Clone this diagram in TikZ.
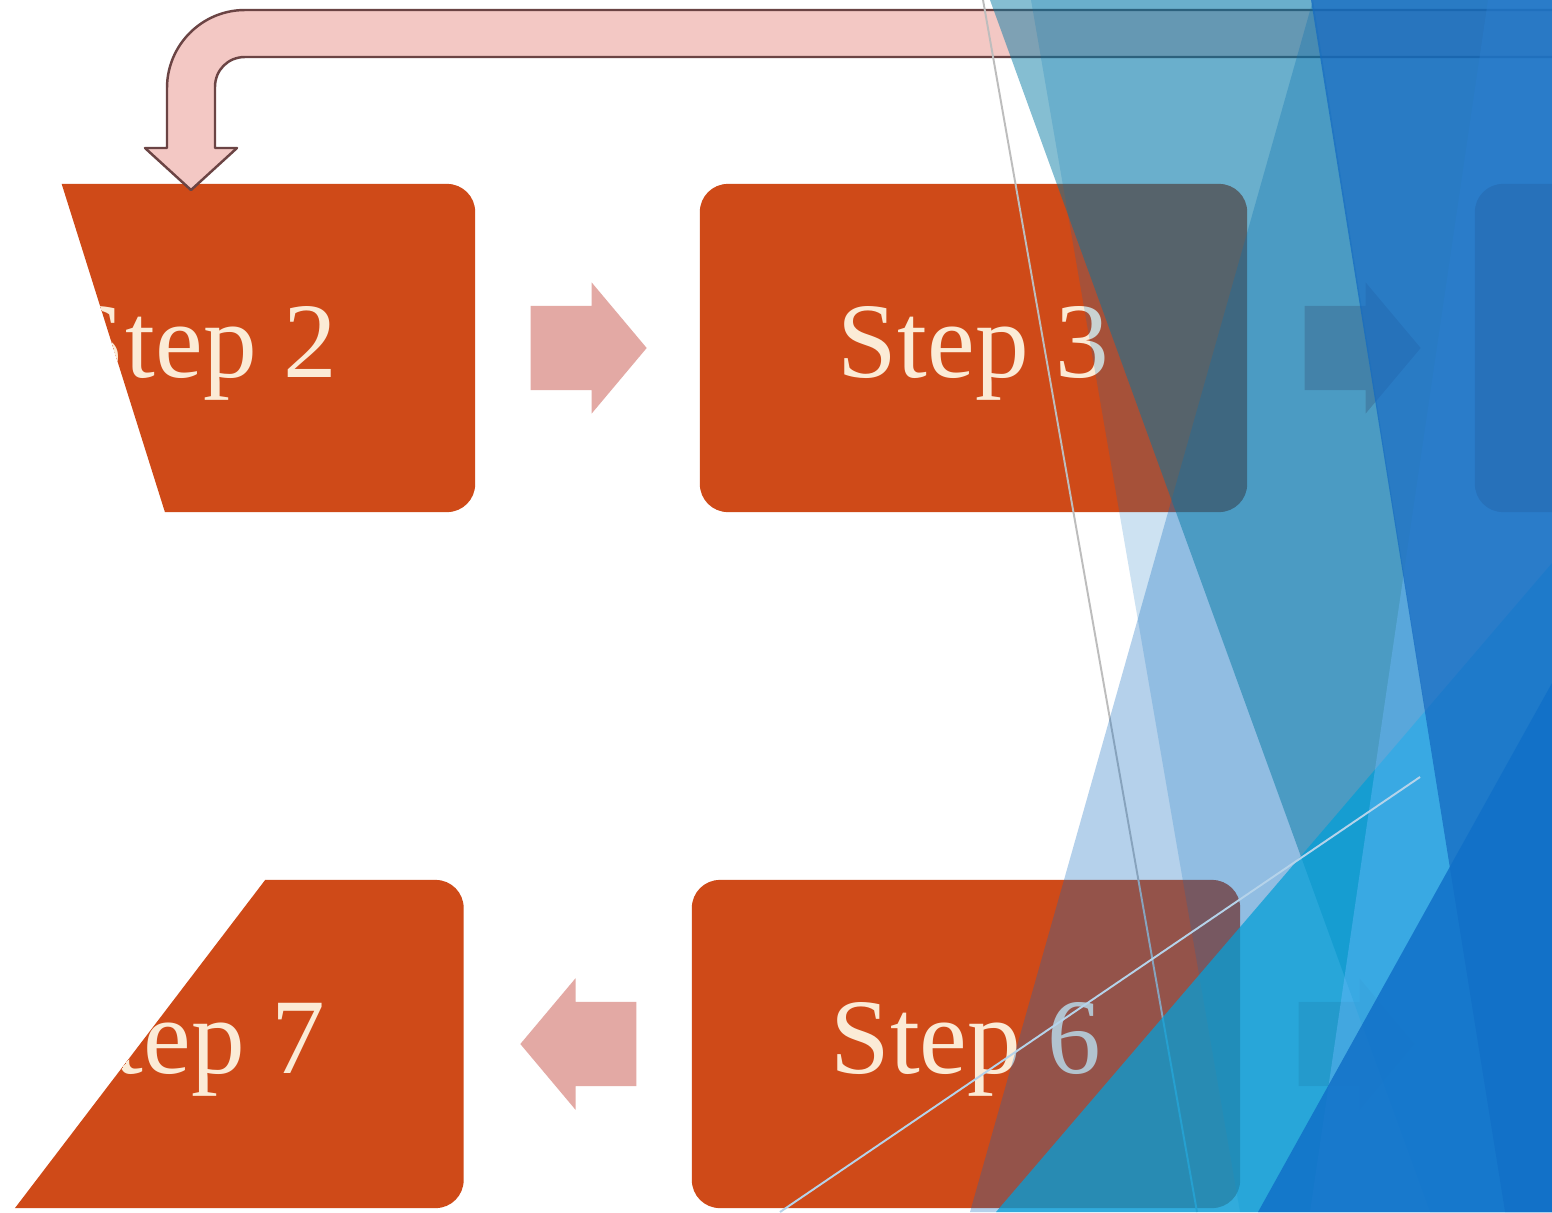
\documentclass[tikz,border=0pt]{standalone}
\usepackage{fontspec}
\setmainfont{Liberation Serif}
\usetikzlibrary{shapes.arrows}

\definecolor{stepfill}{HTML}{CF4A18}
\definecolor{steptext}{HTML}{FBEBD6}
\definecolor{flowpink}{HTML}{E3A9A4}
\definecolor{loopfill}{HTML}{F3C8C4}
\definecolor{loopline}{HTML}{6B4444}
\definecolor{thinline}{HTML}{BDBDBD}
\definecolor{glassline}{HTML}{B5D3EA}
\definecolor{facetV}{RGB}{12,105,192}
\definecolor{facetB}{RGB}{5,110,190}
\definecolor{facetA}{RGB}{0,120,163}
\definecolor{facetF}{RGB}{5,159,215}
\definecolor{facetE}{RGB}{111,187,255}
\definecolor{facetD}{RGB}{20,106,194}
\definecolor{facetG}{RGB}{17,112,200}

\begin{document}
\begin{tikzpicture}[x=0.01cm, y=-0.01cm,
    stepbox/.style={fill=stepfill, rounded corners=0.28cm, minimum width=5.47cm,
      minimum height=3.28cm, inner sep=0pt, text=steptext,
      text height=23pt, text depth=6.5pt,
      font=\fontsize{30.5}{36}\selectfont},
    flowarrow/.style={single arrow, fill=flowpink, inner xsep=0pt, inner ysep=0.415cm,
      minimum height=1.16cm, minimum width=1.30cm, anchor=tail,
      single arrow head extend=0.235cm, single arrow tip angle=100},
    facet/.style 2 args={fill=#1, fill opacity=#2}]

    % Slide background
    \useasboundingbox (0,0) rectangle (1552,1212);
    \fill[white] (0,0) rectangle (1552,1212);
    \clip (0,0) rectangle (1552,1212);

    % Top row of steps
    \begin{scope}
      \clip (51,150) -- (700,150) -- (700,560) -- (180,560) -- cycle;
      \node[stepbox] (s2) at (201.5,348) {Step 2};
    \end{scope}
    \node[stepbox] (s3) at (973.5,348) {Step 3};
    \node[stepbox] (s4) at (1748.5,348) {};

    % Bottom row of steps
    \begin{scope}
      \clip (288,850) -- (700,850) -- (700,1250) -- (-17,1250) -- cycle;
      \node[stepbox, minimum width=5.48cm] (s7) at (189.5,1044) {Step 7};
    \end{scope}
    \node[stepbox, minimum width=5.48cm] (s6) at (966,1044) {Step 6};

    % Arrows between the steps
    \node[flowarrow] (a23) at ([xshift=0.54cm]s2.east) {};
    \node[flowarrow] (a34) at ([xshift=0.56cm]s3.east) {};
    \node[flowarrow, shape border rotate=180] (a67) at ([xshift=-0.54cm]s6.west) {};
    \node[flowarrow] (a65) at ([xshift=0.57cm]s6.east) {};

    % Bent arrow coming back into step 2
    \draw[loopline, fill=loopfill, line width=0.7pt, line join=round]
      (1600,10) -- (245,10) .. controls (202,10) and (167,45) .. (167,88)
      -- (167,148) -- (145,148) -- (191,190) -- (237,148) -- (215,148)
      -- (215,87) .. controls (215,70) and (228,57) .. (245,57) -- (1600,57);

    % Thin guide line
    \draw[thinline, line width=0.55pt] (983,0) -- (1197,1212);

    % Facets of the slide theme
    \fill[facet={facetV}{0.3}] (1313,0) -- (970,1212) -- (1505,1212) -- cycle;
    \fill[facet={facetB}{0.2}] (1031,0) -- (1240,1212) -- (1600,1212) -- (1600,0) -- cycle;
    \fill[facet={facetA}{0.48}] (990,0) -- (1430,1212) -- (1600,1212) -- (1600,0) -- cycle;
    \fill[facet={facetF}{0.75}] (1552,563) -- (996,1212) -- (1600,1212) -- (1600,563) -- cycle;
    \fill[facet={facetE}{0.4}] (1488,0) -- (1310,1212) -- (1600,1212) -- (1600,0) -- cycle;
    \fill[facet={facetD}{0.75}] (1311,0) -- (1505,1212) -- (1600,1212) -- (1600,0) -- cycle;
    \fill[facet={facetG}{0.85}] (1552,683) -- (1258,1212) -- (1600,1212) -- (1600,683) -- cycle;
    \draw[glassline, line width=0.55pt] (780,1212) -- (1420,777); % light edge

\end{tikzpicture}
\end{document}
